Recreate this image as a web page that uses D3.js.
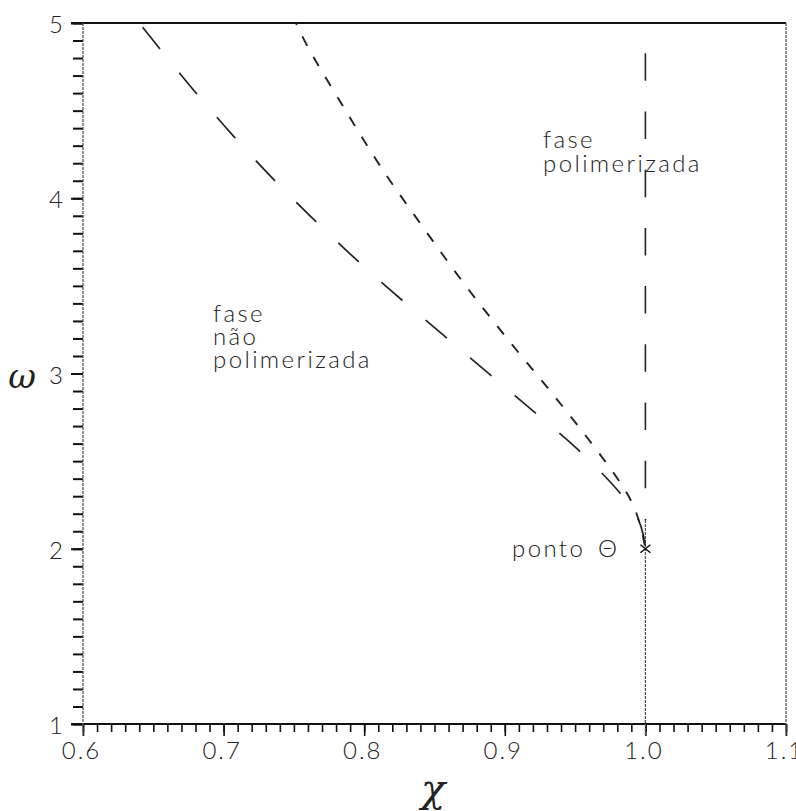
<!DOCTYPE html>
<html>
<head>
<meta charset="utf-8">
<script src="https://cdn.jsdelivr.net/npm/d3@7"></script>
<style>
  body { margin: 0; background: #fff; }
  svg { display: block; }
  .lbl { font-family: "Lato", "DejaVu Sans", sans-serif; font-weight: 300; fill: #222; }
</style>
</head>
<body>
<script>
// lower branch (long dashes)
const lowerChi   = [0.640, 0.681, 0.7225, 0.7655, 0.8124, 0.8596, 0.908, 0.9544, 0.9831, 0.9938, 0.9985, 1.0];
const lowerOmega = [5.00, 4.595, 4.218, 3.868, 3.520, 3.197, 2.868, 2.548, 2.307, 2.187, 2.08, 2.0];
// upper branch (short dashes)
const upperChi   = [0.7515, 0.7595, 0.7854, 0.8117, 0.8402, 0.8696, 0.9006, 0.9321, 0.9630, 0.9824, 0.9907, 0.9965, 1.0];
const upperOmega = [5.00, 4.869, 4.519, 4.180, 3.853, 3.528, 3.210, 2.902, 2.588, 2.373, 2.259, 2.13, 2.0];
// vertical boundary at chi = 1
const boundaryChi = 1.0;
const boundaryOmegaTop = [5.0, 2.164];
const boundaryOmegaLow = [2.164, 1.0];
const thetaPoint = [1.0, 2.0];

const xMajor = [0.6, 0.7, 0.8, 0.9, 1.0, 1.1];
const xLabels = ["0.6", "0.7", "0.8", "0.9", "1.0", "1.1"];
const yMajor = [1, 2, 3, 4, 5];
const yLabels = ["1", "2", "3", "4", "5"];

const W = 796, H = 811;
const margin = {top: 23, right: 10, bottom: 87, left: 83};
const width = W - margin.left - margin.right,
      height = H - margin.top - margin.bottom;

const svg = d3.select("body").append("svg")
    .attr("width", W)
    .attr("height", H);
const g = svg.append("g").attr("transform", `translate(${margin.left},${margin.top})`);

const x = d3.scaleLinear().domain([0.6, 1.1]).range([0, width]);
const y = d3.scaleLinear().domain([1, 5]).range([height, 0]);

// minor ticks
const xMinor = d3.range(60, 111).map(i => i / 100);
const yMinor = d3.range(10, 51).map(i => i / 10);

g.append("g")
    .attr("transform", `translate(0,${height})`)
    .call(d3.axisBottom(x).tickValues(xMinor).tickSize(8).tickFormat(""))
    .call(a => a.select(".domain").remove())
    .call(a => a.selectAll("line").attr("stroke", "#111").attr("stroke-width", 1.6));

g.append("g")
    .attr("transform", `translate(0,${height})`)
    .call(d3.axisBottom(x).tickValues(xMajor).tickSize(12).tickPadding(6)
        .tickFormat((d, i) => xLabels[i]))
    .call(a => a.select(".domain").remove())
    .call(a => a.selectAll("line").attr("stroke", "#111").attr("stroke-width", 1.6))
    .call(a => a.selectAll("text").attr("class", "lbl").attr("font-size", 24)
        .attr("letter-spacing", 2).attr("dx", -2));

g.append("g")
    .call(d3.axisLeft(y).tickValues(yMinor).tickSize(10).tickFormat(""))
    .call(a => a.select(".domain").remove())
    .call(a => a.selectAll("line").attr("stroke", "#111").attr("stroke-width", 2));

g.append("g")
    .call(d3.axisLeft(y).tickValues(yMajor).tickSize(12).tickPadding(8)
        .tickFormat((d, i) => yLabels[i]))
    .call(a => a.select(".domain").remove())
    .call(a => a.selectAll("line").attr("stroke", "#111").attr("stroke-width", 2))
    .call(a => a.selectAll("text").attr("class", "lbl").attr("font-size", 24).attr("dy", "0.4em"));

// frame: top and bottom solid, sides thin dotted
g.append("line").attr("x1", -12).attr("x2", width).attr("y1", 0).attr("y2", 0)
    .attr("stroke", "#111").attr("stroke-width", 2.2);
g.append("line").attr("x1", -12).attr("x2", width).attr("y1", height).attr("y2", height)
    .attr("stroke", "#111").attr("stroke-width", 2.2);
[0, width].forEach(px => {
  g.append("line").attr("x1", px).attr("x2", px).attr("y1", 0).attr("y2", height + 12)
      .attr("stroke", "#555").attr("stroke-width", 1.3).attr("stroke-dasharray", "3,1");
});

const line = d3.line().x(d => x(d[0])).y(d => y(d[1])).curve(d3.curveCatmullRom);

// vertical boundary
g.append("path")
    .datum(boundaryOmegaTop.map(w => [boundaryChi, w]))
    .attr("d", line).attr("fill", "none")
    .attr("stroke", "#222").attr("stroke-width", 1.6)
    .attr("stroke-dasharray", "27.5,30.7").attr("stroke-dashoffset", 27.9);
g.append("path")
    .datum(boundaryOmegaLow.map(w => [boundaryChi, w]))
    .attr("d", line).attr("fill", "none")
    .attr("stroke", "#555").attr("stroke-width", 1.3).attr("stroke-dasharray", "3,1");
g.append("line")
    .attr("x1", x(boundaryChi)).attr("x2", x(boundaryChi))
    .attr("y1", height).attr("y2", height + 12)
    .attr("stroke", "#555").attr("stroke-width", 1.3).attr("stroke-dasharray", "3,1");

// curves
g.append("path")
    .datum(lowerChi.map((c, i) => [c, lowerOmega[i]]))
    .attr("d", line).attr("fill", "none")
    .attr("stroke", "#222").attr("stroke-width", 1.7)
    .attr("stroke-dasharray", "27.8,30.5").attr("stroke-dashoffset", 52.8);
g.append("path")
    .datum(upperChi.map((c, i) => [c, upperOmega[i]]))
    .attr("d", line).attr("fill", "none")
    .attr("stroke", "#222").attr("stroke-width", 1.9)
    .attr("stroke-dasharray", "10.5,12.8").attr("stroke-dashoffset", 8.3);

// theta point marker
const tx = x(thetaPoint[0]), ty = y(thetaPoint[1]);
g.append("path")
    .attr("d", `M${tx - 5},${ty - 4}L${tx + 5},${ty + 4}M${tx - 5},${ty + 4}L${tx + 5},${ty - 4}`)
    .attr("stroke", "#111").attr("stroke-width", 1.6);

// annotations
function block(px, py, lines, step) {
  const t = svg.append("text").attr("class", "lbl").attr("font-size", 24)
      .attr("letter-spacing", 2.4);
  lines.forEach((s, i) => t.append("tspan").attr("x", px).attr("y", py + i * step).text(s));
}
block(543, 148, ["fase", "polimerizada"], 24);
block(213, 322, ["fase", "não", "polimerizada"], 23);
svg.append("text").attr("class", "lbl").attr("font-size", 24).attr("letter-spacing", 2.4)
    .attr("x", 512).attr("y", 557).text("ponto");
svg.append("text").attr("class", "lbl").attr("font-size", 24)
    .attr("x", 598).attr("y", 557).text("Θ");

// axis titles
svg.append("text").attr("x", 433).attr("y", 802)
    .attr("text-anchor", "middle")
    .style("font-family", "DejaVu Serif, serif").style("font-style", "italic")
    .attr("font-size", 40).attr("fill", "#222").text("χ");
svg.append("text").attr("x", 22).attr("y", 388)
    .attr("text-anchor", "middle")
    .style("font-family", "DejaVu Serif, serif").style("font-style", "italic")
    .attr("font-size", 34).attr("fill", "#222").text("ω");
</script>
</body>
</html>
